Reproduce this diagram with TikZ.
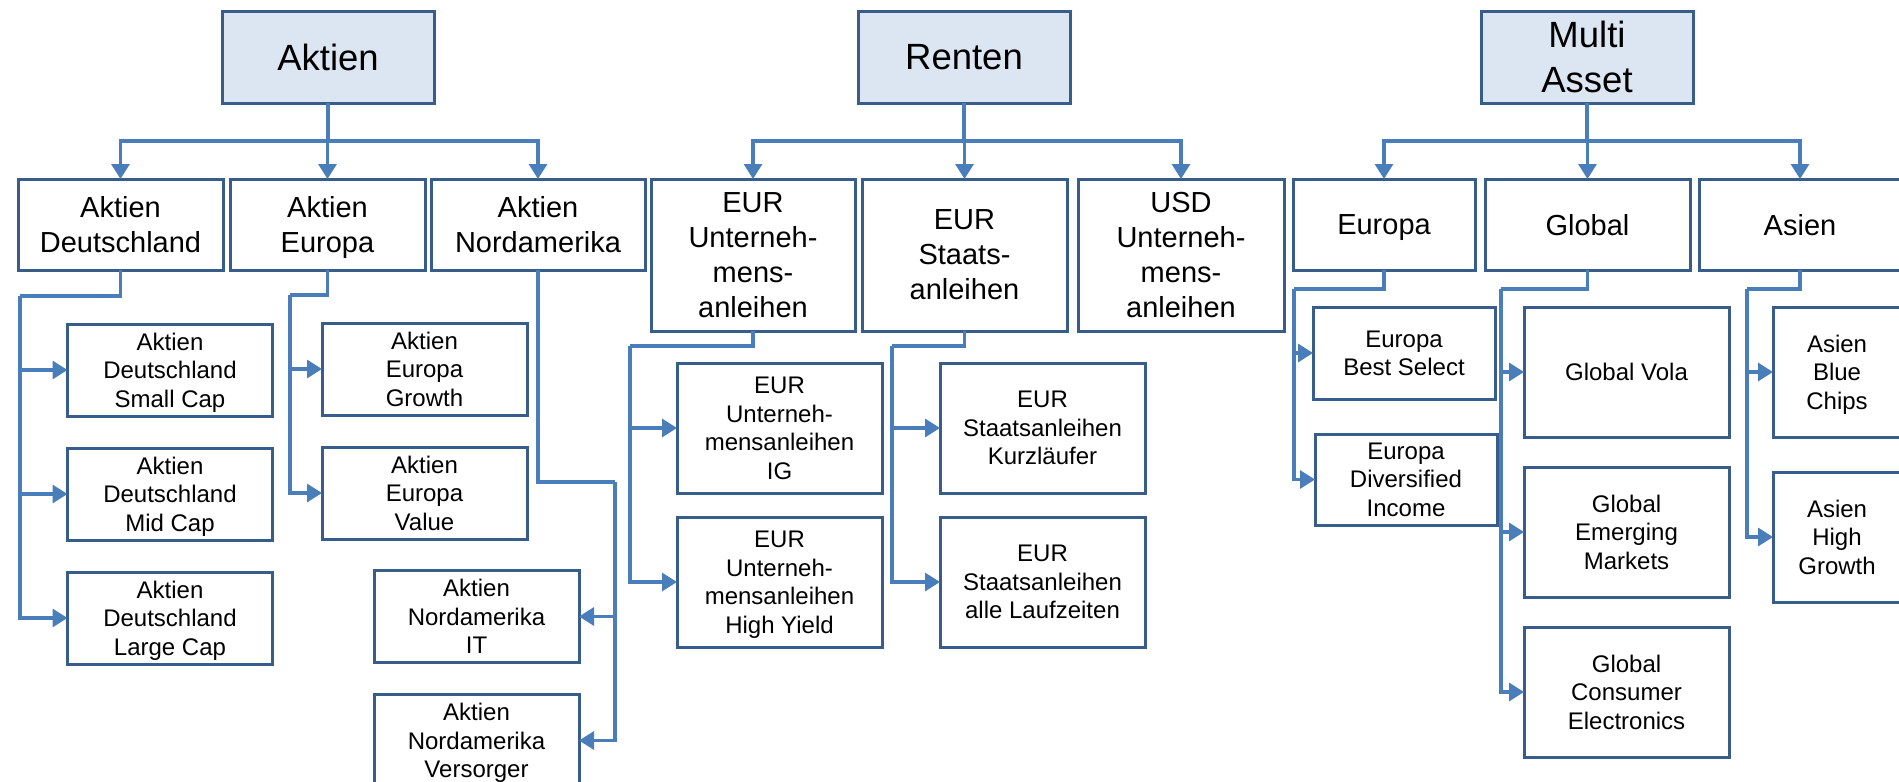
\documentclass[tikz,border=0pt]{standalone}
\usepackage{fontspec}
\setmainfont{Liberation Sans}
\usetikzlibrary{arrows.meta,positioning}
\definecolor{boxline}{HTML}{385D8A}
\definecolor{linkblue}{HTML}{4A7EBB}
\definecolor{topfill}{HTML}{DCE6F2}

\begin{document}
\begin{tikzpicture}[x=1pt,y=-1pt,>={Triangle[length=15pt,width=18pt]},
            box/.style={rectangle,draw=boxline,line width=3pt,fill=white,text=black,
             align=center,inner sep=0pt,outer sep=0pt,text depth=0pt},
            top node/.style={box,fill=topfill,minimum width=212pt,minimum height=92pt,
             font=\fontsize{36.5}{45}\selectfont},
            mid node/.style={box,minimum height=91pt,font=\fontsize{29}{35}\selectfont},
            sub node/.style={box,minimum width=205pt,minimum height=92pt,
             font=\fontsize{24}{28.5}\selectfont},
            link/.style={color=linkblue,line width=3.2pt},
            hv/.style={to path={-| (\tikztotarget)}},
            vh/.style={to path={|- (\tikztotarget)}}]

            \useasboundingbox (0,0) rectangle (1899,782);

            % top row
            \node[top node] (Aktien) at (328,57) {Aktien};
            \node[top node] (Renten) at (964,57) {Renten};
            \node[top node] (Multi) at (1587,57) {Multi\\Asset};

            % second row
            \node[mid node,minimum width=205pt] (AD) at (120.5,224.5) {Aktien\\Deutschland};
            \node[mid node,minimum width=195pt] (AE) at (327.5,224.5) {Aktien\\Europa};
            \node[mid node,minimum width=214pt] (AN) at (538,224.5) {Aktien\\Nordamerika};
            \node[mid node,minimum width=204pt,minimum height=152pt] (EUU) at (753,255) {EUR\\Unterneh-\\mens-\\anleihen};
            \node[mid node,minimum width=205pt,minimum height=152pt] (EUS) at (964.5,255) {EUR\\Staats-\\anleihen};
            \node[mid node,minimum width=206pt,minimum height=152pt] (USD) at (1181,255) {USD\\Unterneh-\\mens-\\anleihen};
            \node[mid node,minimum width=182pt] (MEU) at (1384,224.5) {Europa};
            \node[mid node,minimum width=205pt] (MGL) at (1587.5,224.5) {Global};
            \node[mid node,minimum width=202pt] (MAS) at (1800,224.5) {Asien};

            % funds
            \node[sub node] (ADS) at (170,370) {Aktien\\Deutschland\\Small Cap};
            \node[sub node] (ADM) [below=32pt of ADS] {Aktien\\Deutschland\\Mid Cap};
            \node[sub node] (ADL) [below=32pt of ADM] {Aktien\\Deutschland\\Large Cap};
            \node[sub node] (AEG) at (424.5,369) {Aktien\\Europa\\Growth};
            \node[sub node] (AEV) [below=32pt of AEG] {Aktien\\Europa\\Value};
            \node[sub node] (ANI) at (476.5,616.5) {Aktien\\Nordamerika\\IT};
            \node[sub node] (ANV) [below=32pt of ANI] {Aktien\\Nordamerika\\Versorger};

            \node[sub node,minimum height=130pt] (EUIG) at (779.5,428) {EUR\\Unterneh-\\mensanleihen\\IG};
            \node[sub node,minimum height=130pt] (EUHY) [below=24pt of EUIG] {EUR\\Unterneh-\\mensanleihen\\High Yield};
            \node[sub node,minimum height=130pt] (ESK) at (1042.5,428) {EUR\\Staatsanleihen\\Kurzläufer};
            \node[sub node,minimum height=130pt] (ESA) [below=24pt of ESK] {EUR\\Staatsanleihen\\alle Laufzeiten};

            \node[sub node,minimum width=182pt] (EBS) at (1404,353) {Europa\\Best Select};
            \node[sub node,minimum width=182pt,minimum height=91pt] (EDI) at (1406,479.5) {Europa\\Diversified\\Income};
            \node[sub node,minimum height=130pt] (GVO) at (1626.5,372) {Global Vola};
            \node[sub node,minimum height=130pt] (GEM) [below=30pt of GVO] {Global\\Emerging\\Markets};
            \node[sub node,minimum height=130pt] (GCE) [below=30pt of GEM] {Global\\Consumer\\Electronics};
            \node[sub node,minimum width=128pt,minimum height=130pt] (ABC) at (1837,372) {Asien\\Blue\\Chips};
            \node[sub node,minimum width=128pt,minimum height=130pt] (AHG) [below=35pt of ABC] {Asien\\High\\Growth};

            \coordinate (Abar) at (328,141);
            \coordinate (Rbar) at (964,141);
            \coordinate (Mbar) at (1587,141);
            \coordinate (ADbar) at (20,296);
            \coordinate (AEbar) at (290,295);
            \coordinate (ANbar) at (615,482);
            \coordinate (EUUbar) at (630,346);
            \coordinate (EUSbar) at (892,346);
            \coordinate (MEUbar) at (1294,289);
            \coordinate (MGLbar) at (1501,289);
            \coordinate (MASbar) at (1747,289);

            \draw[link] (Aktien) -- (Abar);
            \draw[link] (Renten) -- (Rbar);
            \draw[link] (Multi) -- (Mbar);

            \path[link,->]
             (Abar) edge[hv] (AD)
             (Abar) edge[hv] (AE)
             (Abar) edge[hv] (AN)
             (Rbar) edge[hv] (EUU)
             (Rbar) edge[hv] (EUS)
             (Rbar) edge[hv] (USD)
             (Mbar) edge[hv] (MEU)
             (Mbar) edge[hv] (MGL)
             (Mbar) edge[hv] (MAS);

            \draw[link] (AD) |- (ADbar);
            \draw[link] (AE) |- (AEbar);
            \draw[link] (AN) |- (ANbar);
            \draw[link] (EUU) |- (EUUbar);
            \draw[link] (EUS) |- (EUSbar);
            \draw[link] (MEU) |- (MEUbar);
            \draw[link] (MGL) |- (MGLbar);
            \draw[link] (MAS) |- (MASbar);

            \path[link,->]
             (ADbar) edge[vh] (ADS)
             (ADbar) edge[vh] (ADM)
             (ADbar) edge[vh] (ADL)
             (AEbar) edge[vh] (AEG)
             (AEbar) edge[vh] (AEV)
             (ANbar) edge[vh] (ANI)
             (ANbar) edge[vh] (ANV)
             (EUUbar) edge[vh] (EUIG)
             (EUUbar) edge[vh] (EUHY)
             (EUSbar) edge[vh] (ESK)
             (EUSbar) edge[vh] (ESA)
             (MEUbar) edge[vh] (EBS)
             (MEUbar) edge[vh] (EDI)
             (MGLbar) edge[vh] (GVO)
             (MGLbar) edge[vh] (GEM)
             (MGLbar) edge[vh] (GCE)
             (MASbar) edge[vh] (ABC)
             (MASbar) edge[vh] (AHG);

\end{tikzpicture}
\end{document}
